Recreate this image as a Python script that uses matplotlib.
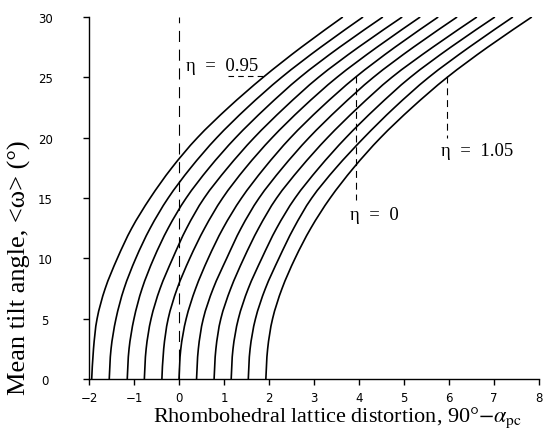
import matplotlib
matplotlib.use("Agg")
import matplotlib.pyplot as plt
from matplotlib.path import Path
from matplotlib.patches import PathPatch

# Mean tilt angle levels (degrees)
tilt = [0, 2.5, 5, 7.5, 10, 12.5, 15, 17.5, 20, 22.5, 25, 27.5, 30]

# Octahedral distortion parameter eta for each curve
eta = [0.95, 0.96, 0.97, 0.98, 0.99, 1.00, 1.01, 1.02, 1.03, 1.04, 1.05]

# Rhombohedral lattice distortion (90 - alpha_pc)
dist_095 = [-1.94, -1.90, -1.82, -1.64, -1.37, -1.05, -0.64, -0.16, 0.41, 1.10, 1.87, 2.72, 3.64]
dist_096 = [-1.55, -1.51, -1.40, -1.22, -0.96, -0.64, -0.24, 0.26, 0.84, 1.52, 2.28, 3.15, 4.09]
dist_097 = [-1.15, -1.11, -1.00, -0.82, -0.56, -0.24, 0.16, 0.67, 1.26, 1.94, 2.69, 3.57, 4.53]
dist_098 = [-0.77, -0.73, -0.62, -0.42, -0.14, 0.17, 0.56, 1.08, 1.67, 2.35, 3.10, 3.99, 4.96]
dist_099 = [-0.38, -0.34, -0.24, -0.04, 0.24, 0.57, 0.97, 1.48, 2.07, 2.75, 3.51, 4.40, 5.36]
dist_100 = [0.00, 0.04, 0.16, 0.37, 0.65, 0.98, 1.39, 1.90, 2.48, 3.16, 3.92, 4.80, 5.76]
dist_101 = [0.39, 0.43, 0.54, 0.76, 1.06, 1.38, 1.78, 2.30, 2.89, 3.57, 4.32, 5.21, 6.18]
dist_102 = [0.78, 0.82, 0.93, 1.15, 1.44, 1.77, 2.17, 2.70, 3.30, 3.98, 4.73, 5.64, 6.62]
dist_103 = [1.16, 1.20, 1.32, 1.54, 1.84, 2.17, 2.58, 3.11, 3.71, 4.39, 5.14, 6.04, 7.02]
dist_104 = [1.54, 1.58, 1.70, 1.92, 2.22, 2.55, 2.95, 3.49, 4.11, 4.79, 5.55, 6.45, 7.42]
dist_105 = [1.93, 1.97, 2.08, 2.29, 2.58, 2.93, 3.36, 3.88, 4.48, 5.18, 5.96, 6.86, 7.84]

curves = [dist_095, dist_096, dist_097, dist_098, dist_099, dist_100,
          dist_101, dist_102, dist_103, dist_104, dist_105]

xticks = [-2, -1, 0, 1, 2, 3, 4, 5, 6, 7, 8]
yticks = [0, 5, 10, 15, 20, 25, 30]

plt.rcParams['lines.scale_dashes'] = False
plt.rcParams['mathtext.fontset'] = 'stix'
serif = ['Liberation Serif', 'DejaVu Serif']


def smooth_path(xs, ys):
    """Catmull-Rom spline through the read points, drawn as cubic Beziers."""
    pts = list(zip(xs, ys))
    n = len(pts)
    verts = [pts[0]]
    codes = [Path.MOVETO]
    for i in range(n - 1):
        p0 = pts[i - 1] if i > 0 else pts[i]
        p1 = pts[i]
        p2 = pts[i + 1]
        p3 = pts[i + 2] if i + 2 < n else pts[i + 1]
        c1 = (p1[0] + (p2[0] - p0[0]) / 6, p1[1] + (p2[1] - p0[1]) / 6)
        c2 = (p2[0] - (p3[0] - p1[0]) / 6, p2[1] - (p3[1] - p1[1]) / 6)
        verts += [c1, c2, p2]
        codes += [Path.CURVE4] * 3
    return Path(verts, codes)


fig = plt.figure(figsize=(5.5, 4.31), dpi=100)
ax = fig.add_axes([89/550, 1-380/431, (539-89)/550, (380-18)/431])

for xs in curves:
    ax.add_patch(PathPatch(smooth_path(xs, tilt), facecolor='none',
                           edgecolor='black', lw=1.2))

dash = (0, (8, 5.5))
# vertical dashed line at zero distortion
ax.plot([0, 0], [0, 30], color='black', lw=0.8, linestyle=dash)
# leader lines for labels
ax.plot([3.93, 3.93], [25.1, 14.8], color='black', lw=0.8, linestyle=(0, (5, 3.5)))
ax.plot([5.96, 5.96], [25.1, 20.0], color='black', lw=0.8, linestyle=(0, (5, 3.5)))
ax.plot([1.09, 1.87], [25.1, 25.1], color='black', lw=0.8, linestyle=(0, (4, 3)))

ax.text(0.15, 25.3, 'η  =  0.95', family=serif, fontsize=13.5, ha='left', va='bottom')
ax.text(3.80, 13.6, 'η  =  0', family=serif, fontsize=13.5, ha='left', va='center')
ax.text(5.82, 18.9, 'η  =  1.05', family=serif, fontsize=13.5, ha='left', va='center')

ax.set_xlim(-2, 8)
ax.set_ylim(0, 30)
ax.spines['top'].set_visible(False)
ax.spines['right'].set_visible(False)
for s in ('left', 'bottom'):
    ax.spines[s].set_linewidth(1.0)

ax.set_xticks(xticks)
ax.set_xticklabels(['−2' if t == -2 else ('−1' if t == -1 else str(t)) for t in xticks])
ax.set_yticks(yticks)
ax.set_yticklabels([str(t) for t in yticks])
ax.tick_params(axis='both', direction='out', length=4.5, width=1.0,
               labelsize=8.5)
ax.tick_params(axis='x', pad=4)
ax.tick_params(axis='y', pad=27)
for lab in ax.get_yticklabels():
    lab.set_horizontalalignment('center')
    lab.set_family('DejaVu Sans')
for lab in ax.get_xticklabels():
    lab.set_family('DejaVu Sans')

fig.text(338/550, 1-418/431, r'Rhombohedral lattice distortion, 90°$-\alpha_{\rm pc}$',
         family=serif, fontsize=16, ha='center', va='center')
fig.text(19/550, 1-268/431, 'Mean tilt angle, <ω> (°)', family=serif,
         fontsize=19, ha='center', va='center', rotation=90)

fig.savefig('out.png', dpi=100)
